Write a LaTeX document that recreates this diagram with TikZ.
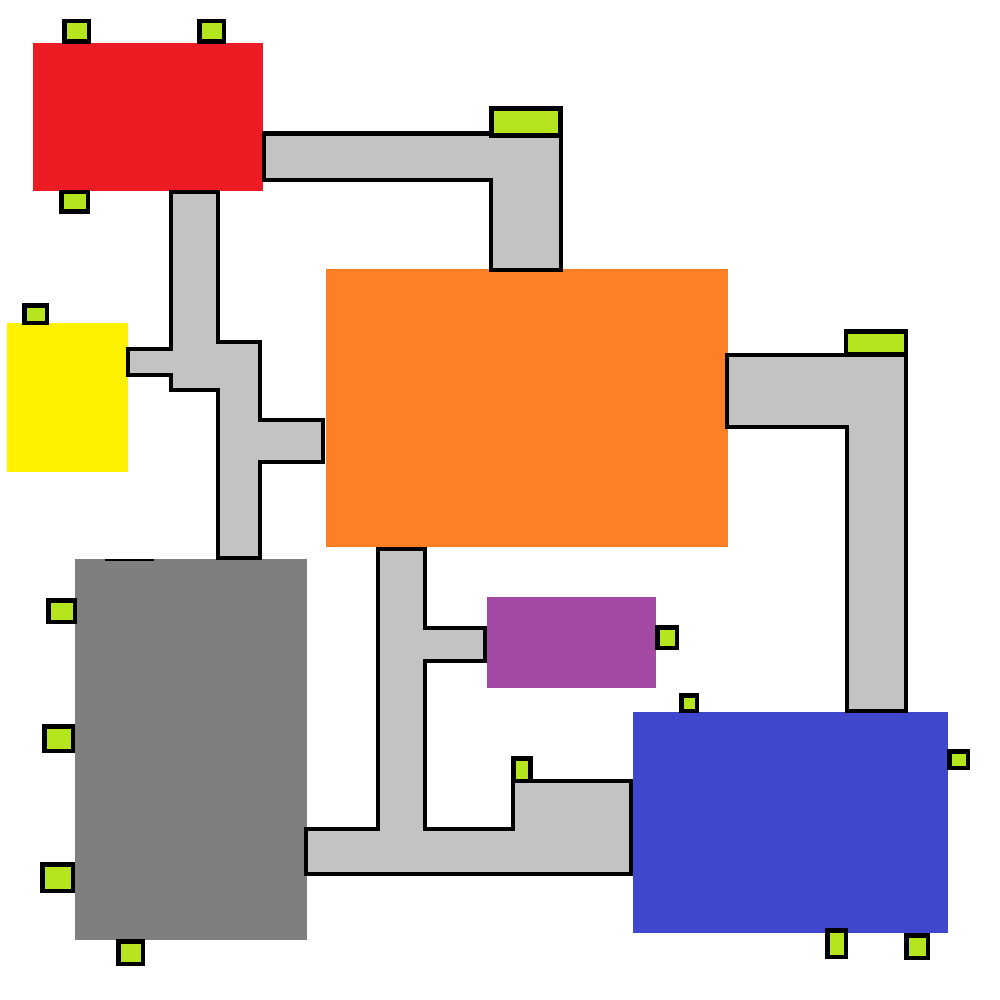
\documentclass[tikz,border=0pt]{standalone}
\definecolor{cRed}{HTML}{ED1C24}
\definecolor{cYel}{HTML}{FFF200}
\definecolor{cOra}{HTML}{FF7F27}
\definecolor{cGry}{HTML}{7F7F7F}
\definecolor{cPur}{HTML}{A349A4}
\definecolor{cBlu}{HTML}{3F48CC}
\definecolor{cCor}{HTML}{C3C3C3}
\definecolor{cPad}{HTML}{B5E61D}
\begin{document}
\begin{tikzpicture}[x=1pt,y=-1pt,
  room/.style={draw=none},
  corridor/.style={fill=cCor,draw=black,line width=4.5pt,line join=miter},
  pad/.style={fill=cPad,draw=black,line width=4.5pt}]
\useasboundingbox[fill=white] (0,0) rectangle (1000,1000);
% rooms
\fill[cRed] (33,43) rectangle (263,191);
\fill[cYel] (7,323) rectangle (128,472);
\fill[cOra] (326,269) rectangle (728,547);
\fill[cGry] (75,559) rectangle (307,940);
\fill[cPur] (487,597) rectangle (656,688);
\fill[cBlu] (633,712) rectangle (948,933);
\draw[line width=2pt] (105,560) -- (154,560);
% corridors
\draw[corridor] (264,133.5) -- (561,133.5) -- (561,270) -- (491,270) -- (491,180) -- (264,180) -- cycle;
\draw[corridor] (171,192) -- (218,192) -- (218,342) -- (260,342) -- (260,420) -- (323,420) -- (323,462) -- (260,462) -- (260,558) -- (218,558) -- (218,390) -- (171,390) -- (171,375) -- (128,375) -- (128,349) -- (171,349) -- cycle;
\draw[corridor] (378,549) -- (425,549) -- (425,628) -- (485,628) -- (485,661) -- (425,661) -- (425,829) -- (513,829) -- (513,781) -- (631,781) -- (631,874) -- (306,874) -- (306,829) -- (378,829) -- cycle;
\draw[corridor] (727,355) -- (906,355) -- (906,711) -- (847,711) -- (847,427) -- (727,427) -- cycle;
% pads
\draw[pad] (491.5,108.5) rectangle (560.5,135.5);
\draw[pad] (846,331.5) rectangle (906,354);
\draw[pad] (513.5,758.5) rectangle (530.5,781);
\draw[pad] (64.25,21.25) rectangle (88.75,41.75);
\draw[pad] (199.25,21.25) rectangle (223.75,41.75);
\draw[pad] (61.25,192.25) rectangle (87.75,211.75);
\draw[pad] (24.25,305.25) rectangle (46.75,322.75);
\draw[pad] (48.25,600.25) rectangle (74.75,621.75);
\draw[pad] (44.25,726.25) rectangle (72.75,750.75);
\draw[pad] (42.25,864.25) rectangle (72.75,890.75);
\draw[pad] (118.25,941.25) rectangle (142.75,963.75);
\draw[pad] (657.25,627.25) rectangle (676.75,647.75);
\draw[pad] (681.25,695.25) rectangle (696.75,710.75);
\draw[pad] (949.25,751.25) rectangle (967.75,767.75);
\draw[pad] (827.25,930.25) rectangle (845.75,956.75);
\draw[pad] (906.25,935.25) rectangle (927.75,957.75);
\end{tikzpicture}
\end{document}
